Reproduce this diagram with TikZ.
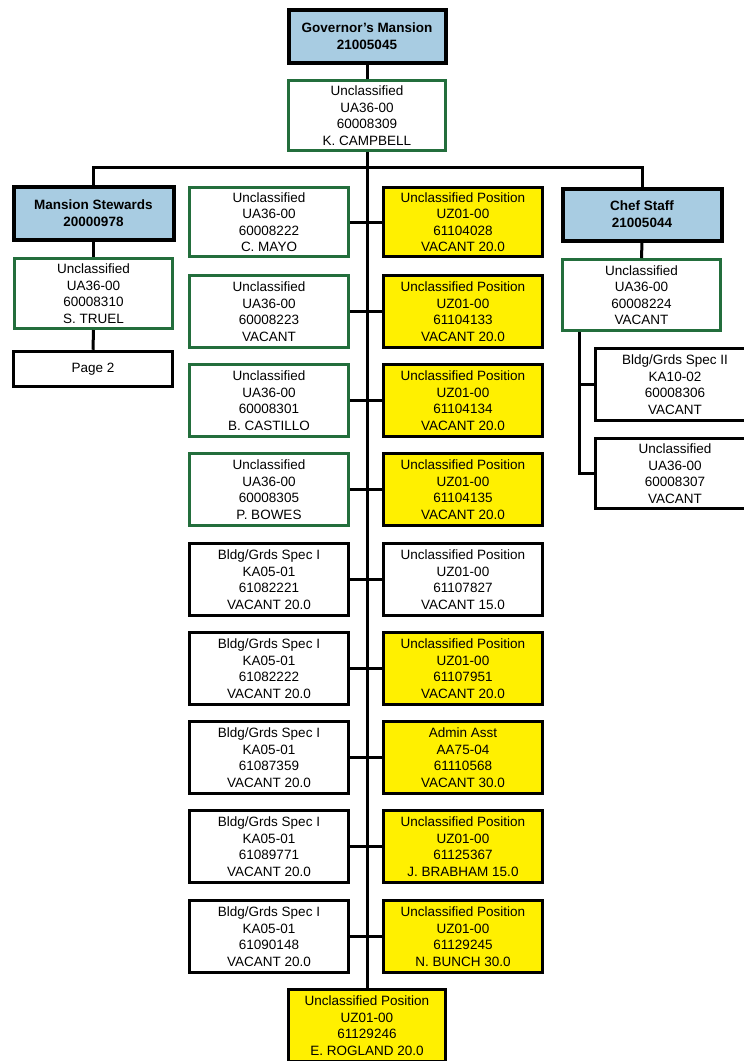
\documentclass[tikz,border=0pt]{standalone}
\usepackage{fontspec}
\setmainfont{Liberation Sans}
\definecolor{hblue}{RGB}{168,204,226}
\definecolor{ylw}{RGB}{255,240,0}
\definecolor{grn}{RGB}{35,110,60}
\newcommand\bx[7]{\node[#2, minimum width={#5-#3-3}, minimum height={#6-#4-3}] (#1) at ({(#3+#5)/2},{(#4+#6)/2}) {#7};}
\begin{document}
\begin{tikzpicture}[x=1pt,y=-1pt,
  base/.style={align=center, inner sep=0pt, text=black, font=\fontsize{13.5}{16.5}\selectfont},
  hdr/.style={base, fill=hblue, draw=black, line width=4pt, font=\fontsize{13.5}{17}\selectfont\bfseries},
  grnbox/.style={base, fill=white, draw=grn, line width=3pt},
  blkbox/.style={base, fill=white, draw=black, line width=3.5pt},
  ylwbox/.style={base, fill=ylw, draw=black, line width=3.5pt},
  link/.style={draw=black, line width=3pt}]
\useasboundingbox (0,0) rectangle (744,1061);
% top
\bx{gov}{hdr}{287}{8}{447}{64}{Governor's Mansion\\21005045}
\bx{camp}{grnbox}{287}{79}{447}{152}{Unclassified\\UA36-00\\60008309\\K. CAMPBELL}
% left column
\bx{ms}{hdr}{12}{185}{175}{241}{Mansion Stewards\\20000978}
\bx{st}{grnbox}{13}{257}{174}{330}{Unclassified\\UA36-00\\60008310\\S. TRUEL}
\bx{ptwo}{blkbox}{12}{350}{174}{388}{Page 2}
% right column
\bx{cs}{hdr}{561}{187}{723}{242}{Chef Staff\\21005044}
\bx{cc}{grnbox}{561}{258}{722}{332}{Unclassified\\UA36-00\\60008224\\VACANT}
\bx{cone}{blkbox}{594}{347}{756}{422}{Bldg/Grds Spec II\\KA10-02\\60008306\\VACANT}
\bx{ctwo}{blkbox}{594}{437}{756}{510}{Unclassified\\UA36-00\\60008307\\VACANT}
% centre rows
\bx{la}{grnbox}{188}{186}{350}{258}{Unclassified\\UA36-00\\60008222\\C. MAYO}
\bx{ra}{ylwbox}{382}{186}{544}{258}{Unclassified Position\\UZ01-00\\61104028\\VACANT 20.0}
\bx{lb}{grnbox}{188}{274}{350}{349}{Unclassified\\UA36-00\\60008223\\VACANT}
\bx{rb}{ylwbox}{382}{274}{544}{349}{Unclassified Position\\UZ01-00\\61104133\\VACANT 20.0}
\bx{lc}{grnbox}{188}{363}{350}{438}{Unclassified\\UA36-00\\60008301\\B. CASTILLO}
\bx{rc}{ylwbox}{382}{363}{544}{438}{Unclassified Position\\UZ01-00\\61104134\\VACANT 20.0}
\bx{ld}{grnbox}{188}{452}{350}{527}{Unclassified\\UA36-00\\60008305\\P. BOWES}
\bx{rd}{ylwbox}{382}{452}{544}{527}{Unclassified Position\\UZ01-00\\61104135\\VACANT 20.0}
\bx{le}{blkbox}{188}{542}{350}{617}{Bldg/Grds Spec I\\KA05-01\\61082221\\VACANT 20.0}
\bx{re}{blkbox}{382}{542}{544}{617}{Unclassified Position\\UZ01-00\\61107827\\VACANT 15.0}
\bx{lf}{blkbox}{188}{631}{350}{706}{Bldg/Grds Spec I\\KA05-01\\61082222\\VACANT 20.0}
\bx{rf}{ylwbox}{382}{631}{544}{706}{Unclassified Position\\UZ01-00\\61107951\\VACANT 20.0}
\bx{lg}{blkbox}{188}{720}{350}{795}{Bldg/Grds Spec I\\KA05-01\\61087359\\VACANT 20.0}
\bx{rg}{ylwbox}{382}{720}{544}{795}{Admin Asst\\AA75-04\\61110568\\VACANT 30.0}
\bx{lh}{blkbox}{188}{809}{350}{884}{Bldg/Grds Spec I\\KA05-01\\61089771\\VACANT 20.0}
\bx{rh}{ylwbox}{382}{809}{544}{884}{Unclassified Position\\UZ01-00\\61125367\\J. BRABHAM 15.0}
\bx{li}{blkbox}{188}{899}{350}{974}{Bldg/Grds Spec I\\KA05-01\\61090148\\VACANT 20.0}
\bx{ri}{ylwbox}{382}{899}{544}{974}{Unclassified Position\\UZ01-00\\61129245\\N. BUNCH 30.0}
\bx{bot}{ylwbox}{287}{988}{447}{1063}{Unclassified Position\\UZ01-00\\61129246\\E. ROGLAND 20.0}
% connectors
\coordinate (bus) at (367,167);
\coordinate (ct) at (579,332);
\draw[link] (gov.south) -- (camp.north);
\draw[link] (camp.south) -- (bot.north);
\draw[link] (ms.north) |- (bus) -| (cs.north);
\draw[link] (ms.south) -- (st.north);
\draw[link] (st.south) -- (ptwo.north);
\draw[link] (cs.south) -- (cc.north);
\draw[link] (ct) |- (cone.west);
\draw[link] (ct) |- (ctwo.west);
\foreach \l/\r in {la/ra,lb/rb,lc/rc,ld/rd,le/re,lf/rf,lg/rg,lh/rh,li/ri}
  \draw[link] (\l.east) -- (\r.west);
\end{tikzpicture}
\end{document}
